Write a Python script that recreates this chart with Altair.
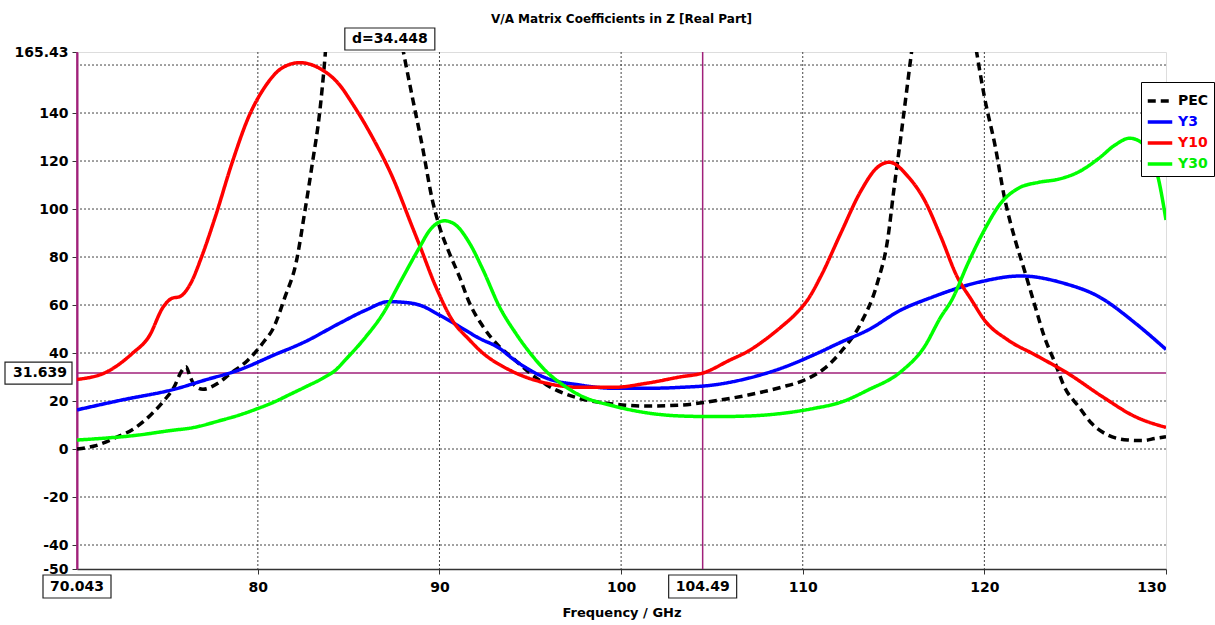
import altair as alt
import pandas as pd

# ---------------- data ----------------
series_names = ["PEC", "Y3", "Y10", "Y30"]
series_colors = ["black", "#0000ff", "#ff0000", "#00ff00"]

pec_f = [70.043, 71.0, 72.1, 73.2, 74.1, 74.86, 75.4, 75.78, 76.05, 76.24, 76.5, 76.98,
         77.8, 78.5, 79.45, 80.4, 80.8, 81.5, 82.1, 82.6, 83.0, 83.4, 83.7, 83.85,
         87.7, 88.0, 88.5, 89.06, 89.6, 90.0, 90.55, 91.1, 91.66, 92.4, 93.3, 94.05, 95.0,
         95.9, 97.7, 99.6, 101.4, 103.3, 105.1, 107.0, 108.8, 110.1, 111.2, 112.1, 113.2,
         114.1, 114.7, 115.0, 115.4, 115.8, 116.0, 116.2, 119.3, 119.56, 120.0, 120.6,
         121.1, 121.7, 122.2, 122.8, 123.3, 123.9, 124.4, 125.2, 125.9, 126.8, 127.9,
         128.7, 129.4, 130.0]
pec_v = [0, 1.25, 4.5, 8.6, 14.2, 20.4, 26, 32.2, 34.3, 30.8, 26.7, 24.9,
         27.4, 31.5, 37, 45.4, 49.6, 63.5, 77.4, 99.6, 119, 140, 163.5, 178,
         178, 166, 146.8, 126, 104, 92.6, 81.5, 71.8, 60.7, 51, 42.6, 37.8, 31.5,
         26.7, 21.1, 18.75, 17.9, 18.3, 20, 22.5, 25.7, 28.75, 33.6, 40.5, 52.4,
         69, 88.5, 107, 130, 154, 166, 178, 178, 166, 146.8, 126,
         105, 87, 74.6, 59.3, 46.8, 35.7, 26, 17.6, 10.7, 5.8, 3.75,
         3.5, 4.4, 5.1]

y3_f = [70.043, 72.5, 75.4, 77.1, 78.95, 80.9, 82.6, 84.5, 85.95, 87.2, 88.2, 88.9, 90.0,
        91.1, 92.2, 93.3, 94.05, 95.9, 97.7, 99.6, 101.4, 103.3, 105.1, 107.0, 108.8,
        110.6, 112.1, 113.6, 115.4, 117.1, 119.8, 122.0, 124.4, 126.3, 128.3, 130.0]
y3_v = [16.3, 20.4, 24.9, 28.75, 32.9, 39.2, 44.7, 52.4, 57.9, 61.4, 61, 60, 55.8,
        51, 46.1, 42, 37.5, 29.5, 26.7, 25.3, 25.3, 25.7, 26.7, 29.5, 33.6,
        39.2, 44.5, 49.6, 57.9, 63.2, 69.7, 72.1, 69, 63.5, 52.5, 41.5]

y10_f = [70.043, 71.7, 73.1, 74.0, 74.8, 75.27, 75.7, 76.3, 76.9, 77.66, 78.57, 79.5, 80.4,
         81.3, 82.3, 83.4, 84.5, 85.2, 86.3, 87.4, 88.5, 88.9, 89.8, 90.7, 91.66, 92.2,
         94.05, 95.9, 97.7, 99.6, 101.4, 103.3, 104.49, 106.0, 107.0, 107.9, 108.8, 109.7,
         110.3, 111.0, 112.1, 113.2, 114.1, 114.77, 115.8, 116.7, 117.6, 118.5, 119.3,
         120.0, 121.3, 122.8, 124.6, 126.5, 128.3, 130.0]
y10_v = [29, 32.2, 39.9, 46.8, 59.3, 62.8, 63.5, 69, 80, 96.8, 119, 138.5, 151,
         158.6, 161, 158.6, 151.7, 144, 130, 113.5, 92.6, 85, 67.6, 53.75, 45.4, 41.25,
         32.2, 27.4, 25.7, 25.7, 27.4, 30.1, 31.64, 37.1, 40.8, 45.4, 50.8, 57,
         62.5, 72, 90, 107.5, 117.3, 119.5, 113.5, 103.75, 88.5, 71.8, 62,
         53.75, 45.4, 39.2, 31.5, 21.8, 13.5, 9]

y30_f = [70.043, 73.4, 75.4, 76.2, 78.0, 79.0, 79.9, 80.9, 81.7, 82.6, 83.6, 84.3, 84.8,
         85.95, 86.9, 87.8, 88.9, 89.45, 90.28, 90.9, 91.66, 92.4, 93.3, 94.2, 95.0, 95.9,
         96.8, 97.7, 99.6, 101.4, 103.3, 105.1, 107.0, 108.8, 110.6, 112.1, 113.6, 115.4,
         116.7, 117.6, 118.2, 119.1, 120.0, 120.9, 121.86, 122.97, 124.07, 125.2, 126.3,
         127.2, 128.0, 128.7, 129.6, 130.0]
y30_v = [3.75, 5.8, 7.9, 8.6, 12, 14.2, 16.6, 19.6, 22.5, 25.8, 29.6, 33, 37,
         46.8, 56.5, 69, 84, 91, 95.1, 93.3, 85.7, 74.6, 59.3, 48.2, 39.9, 32.2,
         26.7, 22.5, 17.9, 15.1, 13.75, 13.5, 13.75, 14.8, 16.9, 19.5, 24.6, 32.2,
         42.6, 55, 62, 77.4, 91.25, 102.4, 108.6, 111.1, 112.4, 115.5, 121.1,
         126.7, 129.5, 127.4, 112, 95.4]

x_ticks = [80, 90, 100, 110, 120, 130]
y_ticks = [-50, -40, -20, 0, 20, 40, 60, 80, 100, 120, 140, 165.43]
x_grid = [80, 90, 100, 110, 120]
y_grid = [-40, -20, 0, 20, 40, 60, 80, 100, 120, 140, 160]

x_markers = [70.043, 104.49]
x_marker_labels = ["70.043", "104.49"]
y_markers = [31.639]
y_marker_labels = ["31.639"]
delta_label = ["d=34.448"]

X_MIN, X_MAX = 70.043, 130.0
Y_MIN, Y_MAX = -50.0, 165.43
W, H = 1089, 517
FONT = "DejaVu Sans"
MAG = "#a0207a"

rows = []
for name, fs, vs in [("PEC", pec_f, pec_v), ("Y3", y3_f, y3_v),
                     ("Y10", y10_f, y10_v), ("Y30", y30_f, y30_v)]:
    for i, (f, v) in enumerate(zip(fs, vs)):
        rows.append({"series": name, "freq": f, "val": v, "i": i})
df = pd.DataFrame(rows)

xs = alt.Scale(domain=[X_MIN, X_MAX], nice=False, zero=False)
ys = alt.Scale(domain=[Y_MIN, Y_MAX], nice=False, zero=False)

label_color_expr = ("datum.label == 'PEC' ? 'black' : datum.label == 'Y3' ? '#0000ff' : "
                    "datum.label == 'Y10' ? '#ff0000' : '#00ee00'")
legend = alt.Legend(title=None, orient="none", legendX=1064, legendY=30,
                    fillColor="white", strokeColor="black", padding=5,
                    symbolType="stroke", symbolSize=600, symbolStrokeWidth=3.5,
                    labelFont=FONT, labelFontSize=14, labelFontWeight="bold",
                    labelColor={"expr": label_color_expr}, labelOffset=4, rowPadding=0)

xaxis = alt.Axis(values=x_ticks, labelExpr="datum.value + ''", title="Frequency / GHz",
                 grid=False, labelFlush=True, labelOverlap=False,
                 labelFont=FONT, labelFontSize=14, labelFontWeight="bold", labelColor="black",
                 titleFont=FONT, titleFontSize=13, titleFontWeight="bold", titleColor="black",
                 tickSize=5, tickColor="#333", domainColor="#333", domainWidth=1.5,
                 labelPadding=6, titlePadding=12)
yaxis = alt.Axis(values=y_ticks, labelExpr="datum.value + ''", title=None, grid=False,
                 labelOverlap=False, labelFont=FONT, labelFontSize=14, labelFontWeight="bold",
                 labelColor="black", tickSize=5, tickColor="#333",
                 domainColor=MAG, domainWidth=2, labelPadding=4)


def X(field):
    return alt.X(field, scale=xs, axis=xaxis)


def Y(field):
    return alt.Y(field, scale=ys, axis=yaxis)


gx = alt.Chart(pd.DataFrame({"g": x_grid})).mark_rule(
    strokeDash=[2, 2], color="#444", strokeWidth=1).encode(x=X("g:Q"))
gy = alt.Chart(pd.DataFrame({"g": y_grid})).mark_rule(
    strokeDash=[2, 2], color="#444", strokeWidth=1).encode(y=Y("g:Q"))

mv = alt.Chart(pd.DataFrame({"v": x_markers})).mark_rule(color=MAG, strokeWidth=1.5).encode(
    x=X("v:Q"))
mh = alt.Chart(pd.DataFrame({"v": y_markers})).mark_rule(color=MAG, strokeWidth=1.5).encode(
    y=Y("v:Q"))

lines = alt.Chart(df).mark_line(interpolate="monotone", strokeWidth=3.5, clip=True).encode(
    x=X("freq:Q"),
    y=Y("val:Q"),
    color=alt.Color("series:N", scale=alt.Scale(domain=series_names, range=series_colors),
                    legend=legend),
    strokeDash=alt.StrokeDash("series:N",
                              scale=alt.Scale(domain=series_names,
                                              range=[[8, 5], [1, 0], [1, 0], [1, 0]]),
                              legend=legend),
    order=alt.Order("i:Q"),
)

# boxed marker labels on x axis
xm = pd.DataFrame({"v": x_markers, "t": x_marker_labels})
xbox = alt.Chart(xm).mark_rect(fill="white", stroke="#222", strokeWidth=1.2,
                               xOffset=-34, x2Offset=34).encode(
    x=X("v:Q"), x2=alt.X2("v"),
    y=alt.value(523), y2=alt.value(546))
xtxt = alt.Chart(xm).mark_text(font=FONT, fontSize=14, fontWeight="bold", color="black",
                               align="center", baseline="middle").encode(
    x=X("v:Q"), y=alt.value(535), text="t:N")

# boxed marker label on y axis
ym = pd.DataFrame({"v": y_markers, "t": y_marker_labels})
ybox = alt.Chart(ym).mark_rect(fill="white", stroke="#222", strokeWidth=1.2,
                               yOffset=-11, y2Offset=11).encode(
    y=Y("v:Q"), y2=alt.Y2("v"),
    x=alt.value(-72), x2=alt.value(-5))
ytxt = alt.Chart(ym).mark_text(font=FONT, fontSize=14, fontWeight="bold", color="black",
                               align="right", baseline="middle").encode(
    y=Y("v:Q"), x=alt.value(-10), text="t:N")

# delta label
dm = pd.DataFrame({"v": [(x_markers[0] + x_markers[1]) / 2], "t": delta_label})
dbox = alt.Chart(dm).mark_rect(fill="white", stroke="#222", strokeWidth=1.2,
                               xOffset=-45, x2Offset=45).encode(
    x=X("v:Q"), x2=alt.X2("v"),
    y=alt.value(-24), y2=alt.value(-2))
dtxt = alt.Chart(dm).mark_text(font=FONT, fontSize=14, fontWeight="bold", color="black",
                               align="center", baseline="middle").encode(
    x=X("v:Q"), y=alt.value(-13), text="t:N")

chart = alt.layer(gx, gy, mv, mh, lines, xbox, xtxt, ybox, ytxt, dbox, dtxt).properties(
    width=W, height=H,
    title=alt.TitleParams("V/A Matrix Coefficients in Z [Real Part]", font=FONT, fontSize=12,
                          fontWeight="bold", anchor="middle", frame="group", offset=1,
                          color="black"),
    autosize=alt.AutoSizeParams(type="none"),
    padding={"left": 77, "top": 52, "right": 49, "bottom": 56},
).configure_view(stroke="#777", strokeWidth=1.5).configure(background="white")

chart.save("out.html", embed_options={"renderer": "svg", "actions": False})
